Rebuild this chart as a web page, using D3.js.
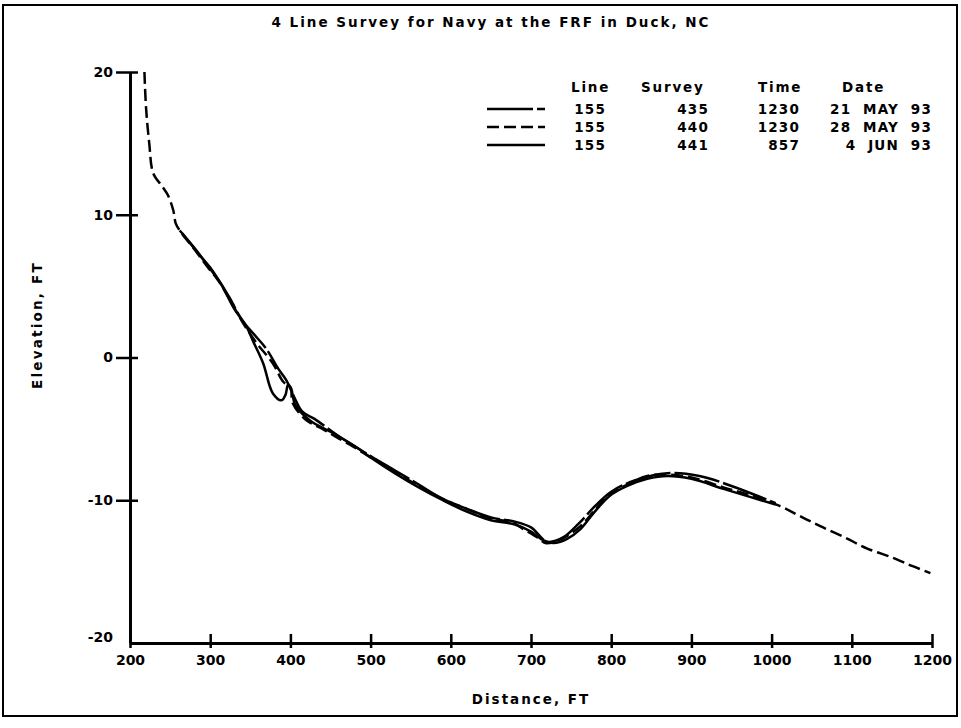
<!DOCTYPE html>
<html>
<head>
<meta charset="utf-8">
<script src="https://cdn.jsdelivr.net/npm/d3@7"></script>
<style>
  body { margin: 0; background: #fff; }
  text { font-family: "DejaVu Sans", sans-serif; font-weight: bold; fill: #000; }
</style>
</head>
<body>
<script>
const w = 961;
const h = 728;

const title = '4 Line Survey for Navy at the FRF in Duck, NC';
const xTicks = [200, 300, 400, 500, 600, 700, 800, 900, 1000, 1100, 1200];
const yTicks = [-20, -10, 0, 10, 20];

const legendHeader = ['Line', 'Survey', 'Time', 'Date'];
const lineIds = ['155', '155', '155'];
const surveyIds = ['435', '440', '441'];
const surveyTimes = ['1230', '1230', '857'];
const surveyDates = ['21 MAY 93', '28 MAY 93', '4 JUN 93'];

// [distance ft, elevation ft]
const survey435 = [
  [262, 8.9], [280, 7.7], [296, 6.5], [312, 5.3], [325, 4.1], [340, 2.6], [355, 1.6],
  [370, 0.6], [385, -0.8], [395, -1.6], [405, -2.8], [415, -3.8], [430, -4.3],
  [460, -5.5], [500, -6.9], [530, -7.9], [560, -8.9], [590, -9.9], [620, -10.6],
  [650, -11.2], [680, -11.5], [700, -11.9], [720, -12.9], [740, -12.6], [760, -11.6],
  [780, -10.4], [800, -9.4], [830, -8.6], [870, -8.1], [910, -8.3], [950, -9.0], [1005, -10.2]
];

const survey440 = [
  [218, 20], [220, 17.5], [224, 15], [229, 12.9], [240, 12], [247, 11.4], [254, 10.3],
  [257, 9.4], [262, 8.9], [280, 7.6], [296, 6.4], [310, 5.4], [325, 4.0], [340, 2.5],
  [358, 1.0], [378, -0.4], [391, -1.7], [400, -2.1], [403, -3.2], [420, -4.4],
  [440, -5.0], [458, -5.6], [480, -6.3], [500, -7.0], [530, -8.0], [560, -9.0],
  [590, -9.9], [620, -10.6], [650, -11.3], [675, -11.5], [690, -12.0], [708, -12.6],
  [718, -13.0], [730, -12.9], [745, -12.5], [762, -11.8], [778, -10.8], [798, -9.6],
  [820, -8.9], [845, -8.3], [870, -8.2], [900, -8.4], [940, -9.1], [970, -9.6],
  [1010, -10.4], [1035, -11.1], [1060, -11.8], [1091, -12.6], [1120, -13.4],
  [1150, -14.0], [1175, -14.6], [1198, -15.1]
];

const survey441 = [
  [265, 8.7], [285, 7.3], [300, 6.3], [315, 5.0], [330, 3.4], [345, 2.2], [353, 1.2],
  [366, -0.4], [378, -2.5], [389, -3.0], [394, -2.6], [397, -1.9], [401, -2.2],
  [406, -3.3], [424, -4.4], [453, -5.3], [480, -6.2], [500, -7.0], [530, -8.1],
  [560, -9.1], [590, -10.0], [620, -10.8], [650, -11.4], [680, -11.7], [700, -12.2],
  [715, -12.8], [728, -13.0], [745, -12.7], [762, -12.0], [778, -10.9], [798, -9.7],
  [820, -9.0], [845, -8.5], [870, -8.3], [900, -8.5], [940, -9.2], [975, -9.8], [1005, -10.3]
];

const series = [
  { data: survey435, dash: '46,4' },
  { data: survey440, dash: '12,5' },
  { data: survey441, dash: null }
];

const xScale = d3.scaleLinear().domain([200, 1200]).range([130, 932]);
const yScale = d3.scaleLinear().domain([-20, 20]).range([643, 72]);

const svg = d3.select('body')
  .append('svg')
  .attr('width', w)
  .attr('height', h);

// outer frame
svg.append('rect')
  .attr('x', 3).attr('y', 5)
  .attr('width', 954).attr('height', 711)
  .attr('fill', 'none')
  .attr('stroke', '#000')
  .attr('stroke-width', 2);

svg.append('text')
  .attr('x', 491).attr('y', 27)
  .attr('text-anchor', 'middle')
  .style('font-size', '13.5px')
  .style('letter-spacing', '2px')
  .text(title);

// axes
const xAxis = d3.axisBottom(xScale)
  .tickValues(xTicks)
  .tickFormat(d => String(d))
  .tickSizeInner(-9)
  .tickSizeOuter(0)
  .tickPadding(12);

const yAxis = d3.axisLeft(yScale)
  .tickValues(yTicks)
  .tickFormat(d => String(d))
  .tickSizeInner(14)
  .tickSizeOuter(0)
  .tickPadding(3);

const gx = svg.append('g')
  .attr('transform', 'translate(0,' + yScale(-20) + ')')
  .call(xAxis);
gx.selectAll('.tick line').attr('y1', 5);

const gy = svg.append('g')
  .attr('transform', 'translate(' + xScale(200) + ',0)')
  .call(yAxis);
gy.selectAll('.tick line').attr('x2', 8).attr('x1', -14);
gy.selectAll('.tick').filter(d => d === -20).select('line').remove();
gy.selectAll('.tick').filter(d => d === -20).select('text').attr('dy', '-0.1em');

svg.selectAll('.domain').attr('stroke-width', 3);
svg.selectAll('.tick line').attr('stroke-width', 2.5);
svg.selectAll('.tick text')
  .style('font-size', '14px')
  .style('font-family', '"DejaVu Sans", sans-serif')
  .style('font-weight', 'bold');

svg.append('text')
  .attr('x', 531).attr('y', 704)
  .attr('text-anchor', 'middle')
  .style('font-size', '13.5px')
  .style('letter-spacing', '2px')
  .text('Distance, FT');

svg.append('text')
  .attr('transform', 'translate(42,325) rotate(-90)')
  .attr('text-anchor', 'middle')
  .style('font-size', '13.5px')
  .style('letter-spacing', '2.2px')
  .text('Elevation, FT');

// profiles
const line = d3.line()
  .x(d => xScale(d[0]))
  .y(d => yScale(d[1]))
  .curve(d3.curveCatmullRom);

svg.selectAll('path.profile')
  .data(series)
  .enter()
  .append('path')
  .attr('class', 'profile')
  .attr('d', d => line(d.data))
  .attr('fill', 'none')
  .attr('stroke', '#000')
  .attr('stroke-width', 2.5)
  .attr('stroke-dasharray', d => d.dash);

// legend
const legendY = [114, 132, 150];
const headerX = [571, 641, 758, 842];

svg.selectAll('text.lhead')
  .data(legendHeader)
  .enter()
  .append('text')
  .attr('class', 'lhead')
  .attr('x', (d, i) => headerX[i])
  .attr('y', 92)
  .style('font-size', '13.5px')
  .style('letter-spacing', '1.8px')
  .text(d => d);

const rows = svg.selectAll('g.lrow')
  .data(series)
  .enter()
  .append('g')
  .attr('class', 'lrow')
  .attr('transform', (d, i) => 'translate(0,' + legendY[i] + ')');

rows.append('line')
  .attr('x1', 487).attr('x2', 545)
  .attr('y1', -5).attr('y2', -5)
  .attr('stroke', '#000')
  .attr('stroke-width', 2.5)
  .attr('stroke-dasharray', d => d.dash);

const cols = [
  { x: 606, vals: lineIds },
  { x: 709, vals: surveyIds },
  { x: 800, vals: surveyTimes },
  { x: 932, vals: surveyDates }
];

cols.forEach(c => {
  rows.append('text')
    .attr('x', c.x)
    .attr('text-anchor', 'end')
    .style('font-size', '13.5px')
    .style('letter-spacing', '1.2px')
    .style('white-space', 'pre')
    .text((d, i) => c.vals[i].replace(/ /g, '  '));
});
</script>
</body>
</html>
